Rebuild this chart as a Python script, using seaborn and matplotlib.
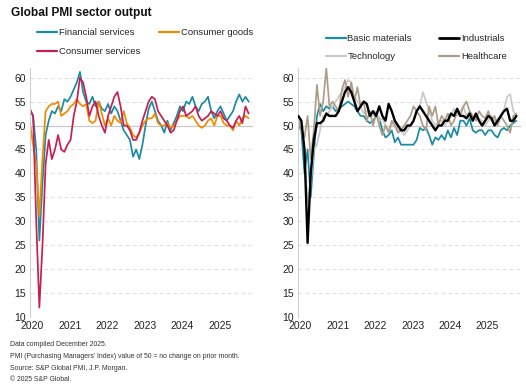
import numpy as np
import pandas as pd
import matplotlib
matplotlib.use("Agg")
import matplotlib.pyplot as plt
import seaborn as sns

# monthly readings, Jan 2020 - Nov 2025
months = pd.date_range("2020-01-01", "2025-11-01", freq="MS")

financial_services = [53, 52, 45, 26, 38, 48, 51, 53, 52.5, 54, 53, 55.5,
                      55, 56, 57.5, 59, 61.2, 57, 55, 54.5, 56, 54, 55, 53.5,
                      53, 54.5, 52.5, 54, 53, 51, 49, 48, 47, 43.5, 45, 43,
                      46, 50, 53.5, 55, 53, 51, 50, 48.5, 51, 49, 50.5, 52,
                      54, 53, 55, 54.5, 56, 54, 53, 54.5, 55, 56, 53, 51.5,
                      53, 54, 52.5, 51, 52, 53, 55, 56.5, 55, 56, 55]
consumer_goods = [50.5, 46, 42, 31, 43, 53, 54, 54.5, 54.5, 55, 52, 52.5,
                  53, 54, 54.5, 55.5, 54.5, 54, 54.5, 51, 50.5, 51, 55, 52.5,
                  50, 51.5, 50, 52, 51, 50.5, 53, 50.5, 49.5, 48, 47.5, 48.5,
                  50, 51, 51.5, 51.5, 52.5, 50.5, 50, 50, 50.5, 49.5, 50, 51,
                  52, 52, 52, 51.5, 52, 51, 50, 49.5, 50, 51, 51.5, 50,
                  52, 52, 50.5, 50, 50, 49, 51, 50, 51.5, 52, 51.5]
consumer_services = [53.5, 52, 30, 12, 25, 42, 47, 43, 45, 48, 45, 44.5,
                     46, 47, 52, 55, 60, 59, 56, 52, 54, 55, 52, 50,
                     48.5, 52, 54, 56, 57, 54, 50, 50, 49, 47, 47, 48.5,
                     51, 53, 55, 56, 55.5, 53, 52, 51, 50, 48.5, 49, 51,
                     53, 54, 52, 52.5, 53, 54, 52, 51, 51.5, 52, 53, 52.5,
                     52, 53, 51.5, 51, 50, 49.5, 51, 52, 50.5, 54, 52.5]

basic_materials = [50, 49, 40, 45, 35, 44, 52, 54.5, 53, 54, 53.5, 54,
                   53, 53.5, 54, 54.5, 55, 54.5, 54, 53, 52, 52, 51, 50.5,
                   51, 52, 51.5, 49, 47.5, 48, 49, 46.5, 47.5, 46, 46, 46,
                   46, 46, 47, 49.5, 49, 49.5, 48, 46, 47.5, 47, 48, 47,
                   49, 47.5, 49.5, 48, 51, 51, 50, 51.5, 49, 48.5, 49, 49,
                   48, 49, 49, 48, 47.5, 49, 49.5, 49, 50, 50.5, 51]
industrials = [52, 51, 45, 25.5, 40, 47, 50.5, 50.5, 51, 52.5, 52, 52,
               52, 53, 55, 57, 58, 57, 55, 53, 54, 55, 54.5, 52,
               53, 52, 54, 52, 51, 54.5, 53, 51, 50, 49, 49, 50,
               50, 51, 53, 54, 53, 52, 51, 50, 49, 50, 50, 51,
               51, 52.5, 52, 53.5, 52, 52, 51.5, 52.5, 51, 52.5, 51, 50,
               51, 52, 51.5, 50, 51, 52, 53, 53.5, 51, 51, 52]
technology = [51, 50, 45, 34, 38, 45, 46, 49, 52, 52, 53, 54,
              55, 56, 57, 58, 59.5, 59, 56, 55, 54, 52.5, 53, 52,
              52, 53, 51, 51.5, 50, 49, 50, 51, 49, 49, 48, 49,
              50, 51, 53, 54, 57, 55, 53, 51, 50, 51, 51, 50,
              51, 52, 53.5, 52, 53, 54, 52, 53, 51, 52, 51.5, 51,
              50, 51, 52, 51, 50.5, 52, 53, 56, 56.5, 53, 52]
healthcare = [51.5, 49, 47.5, 52, 43, 49, 58.5, 52, 55, 62, 54, 55,
              54, 53, 57.5, 59.5, 56, 59, 55, 58, 54, 55, 51, 53,
              50, 52.5, 50, 48, 50, 48.5, 51, 50, 48.5, 49, 50, 51,
              52, 54, 53, 52, 50, 49, 54, 52, 54, 50, 52, 51,
              52.5, 50, 51, 53, 52, 54, 55, 53, 52, 51, 53, 52,
              51.5, 53, 51, 52, 50, 52, 51, 50, 48.5, 52, 52.5]

years = [2020, 2021, 2022, 2023, 2024, 2025]
yticks = [10, 15, 20, 25, 30, 35, 40, 45, 50, 55, 60]

t = months.year + (months.month - 1) / 12

left = pd.DataFrame({"t": t,
                     "Financial services": financial_services,
                     "Consumer goods": consumer_goods,
                     "Consumer services": consumer_services}).melt("t", var_name="sector", value_name="pmi")
right = pd.DataFrame({"t": t,
                      "Basic materials": basic_materials,
                      "Industrials": industrials,
                      "Technology": technology,
                      "Healthcare": healthcare}).melt("t", var_name="sector", value_name="pmi")

left_colors = {"Financial services": "#1b8aa3", "Consumer goods": "#f08a00",
               "Consumer services": "#c61f52"}
right_colors = {"Basic materials": "#1b8aa3", "Industrials": "#000000",
                "Technology": "#c9c9c9", "Healthcare": "#ad9d88"}

sns.set_style("white")
plt.rcParams["font.family"] = ["Liberation Sans", "DejaVu Sans"]

fig = plt.figure(figsize=(5.26, 3.91), dpi=100)
ax1 = fig.add_axes([0.057, 0.189, 0.424, 0.637])
ax2 = fig.add_axes([0.567, 0.189, 0.423, 0.637])

sns.lineplot(data=left, x="t", y="pmi", hue="sector", palette=left_colors,
             linewidth=1.25, ax=ax1, legend=False)
sns.lineplot(data=right, x="t", y="pmi", hue="sector", palette=right_colors,
             linewidth=1.25, ax=ax2, legend=False)
# thicker industrials line
for ln in ax2.get_lines():
    if ln.get_color() == "#000000":
        ln.set_linewidth(1.7)
        ln.set_zorder(3)

for ax in (ax1, ax2):
    ax.set_xlim(2020, 2025.95)
    ax.set_ylim(10, 62)
    ax.set_yticks(yticks)
    ax.set_xticks([y + 0.06 for y in years])
    ax.set_xticklabels([str(y) for y in years])
    ax.tick_params(length=0, labelsize=7.5, colors="#222222", pad=3)
    ax.set_xlabel("")
    ax.set_ylabel("")
    for s in ["top", "right", "bottom"]:
        ax.spines[s].set_visible(False)
    ax.spines["left"].set_color("#d0d0d0")
    for y in yticks[1:]:
        if y == 50:
            ax.axhline(y, color="#c8c8c8", lw=0.9, zorder=0)
        else:
            ax.axhline(y, color="#dedede", lw=0.7, ls=(0, (4, 3)), zorder=0)

def handles(colors, order, lw):
    return [plt.Line2D([], [], color=colors[k], lw=lw.get(k, 1.6)) for k in order]

o1 = ["Financial services", "Consumer services", "Consumer goods"]
ax1.legend(handles(left_colors, o1, {}), o1, ncol=2, frameon=False, fontsize=6.8,
           loc="upper left", bbox_to_anchor=(0.054, 0.949), bbox_transform=fig.transFigure,
           handlelength=2.1, handletextpad=0.2, columnspacing=2.0, labelspacing=1.0)
o2 = ["Basic materials", "Technology", "Industrials", "Healthcare"]
ax2.legend(handles(right_colors, o2, {"Industrials": 2.0}), o2, ncol=2, frameon=False, fontsize=6.8,
           loc="upper left", bbox_to_anchor=(0.603, 0.935), bbox_transform=fig.transFigure,
           handlelength=2.1, handletextpad=0.2, columnspacing=2.9, labelspacing=1.0)

fig.text(0.021, 0.968, "Global PMI sector output", fontsize=8.6, fontweight="bold",
         va="center", color="#111111")

notes = ["Data compiled December 2025.",
         "PMI (Purchasing Managers' Index) value of 50 = no change on prior month.",
         "Source: S&P Global PMI, J.P. Morgan.",
         "\u00a9 2025 S&P Global."]
for i, n in enumerate(notes):
    fig.text(0.019, 1 - (345 + 11.5 * i) / 391, n, fontsize=4.95, color="#333333", va="center")

fig.savefig("out.png", dpi=100)
